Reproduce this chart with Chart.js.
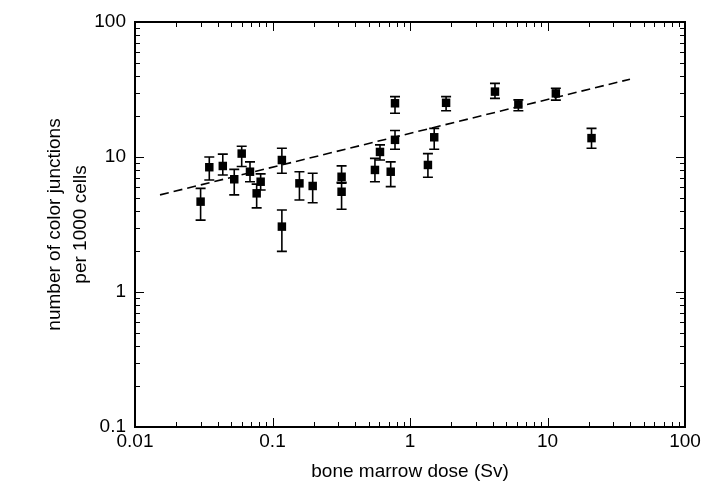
<!DOCTYPE html>
<html>
<head>
<meta charset="utf-8">
<script src="https://cdn.jsdelivr.net/npm/chart.js@4.4.1/dist/chart.umd.min.js"></script>
<style>
  html,body{margin:0;padding:0;background:#fff;}
  #wrap{width:707px;height:499px;}
</style>
</head>
<body>
<div id="wrap"><canvas id="dose-chart" width="707" height="499"></canvas></div>
<script>
// ------------------------------------------------------
// data
// ------------------------------------------------------
const doseSv    = [0.030, 0.0347, 0.0435, 0.0527, 0.0597, 0.0686, 0.082, 0.0767, 0.117, 0.117, 0.157, 0.196, 0.318, 0.318,
                   0.556, 0.605, 0.724, 0.778, 0.778, 1.35, 1.50, 1.83, 4.15, 6.14, 11.5, 20.9];
const junctions = [4.67, 8.4, 8.58, 6.84, 10.6, 7.78, 6.56, 5.38, 9.5, 3.05, 6.38, 6.1, 7.14, 5.53,
                   8.02, 10.9, 7.78, 25.0, 13.4, 8.73, 14.0, 25.2, 30.5, 24.5, 29.6, 13.8];
const errLow    = [3.41, 6.76, 7.36, 5.24, 8.5, 6.56, 5.7, 4.2, 7.57, 2.0, 4.8, 4.58, 6.4, 4.1,
                   6.56, 9.5, 6.03, 21.1, 11.4, 7.08, 11.4, 22.0, 27.2, 22.0, 26.4, 11.6];
const errHigh   = [5.86, 10.0, 10.5, 8.1, 12.0, 9.2, 7.5, 6.3, 11.6, 4.05, 7.78, 7.57, 8.6, 6.5,
                   9.77, 12.3, 9.2, 28.0, 15.7, 10.6, 16.3, 28.0, 35.1, 26.5, 32.3, 16.3];

// fitted power law, drawn as a dashed line between its two ends
const fitDose      = [0.0152, 39.8];
const fitJunctions = [5.24, 37.7];

const xTicks = [0.01, 0.1, 1, 10, 100];
const yTicks = [0.1, 1, 10, 100];

const FONT = "'Liberation Sans', Arial, sans-serif";


// ------------------------------------------------------
// error bars
// ------------------------------------------------------
const errorBars = {
  id: 'errorBars',
  afterDatasetsDraw(chart){
    const { ctx, scales:{ x, y } } = chart;
    ctx.save();
    ctx.strokeStyle = '#000';
    ctx.lineWidth = 1.6;
    doseSv.forEach((d, i)=>{
      const px  = x.getPixelForValue(d);
      const top = y.getPixelForValue(errHigh[i]);
      const bot = y.getPixelForValue(errLow[i]);
      ctx.beginPath();
      ctx.moveTo(px, top); ctx.lineTo(px, bot);
      ctx.moveTo(px-5, top); ctx.lineTo(px+5, top);
      ctx.moveTo(px-5, bot); ctx.lineTo(px+5, bot);
      ctx.stroke();
    });
    ctx.restore();
  }
};


// ------------------------------------------------------
// frame + inward log ticks on all four sides
// ------------------------------------------------------
function logTickValues(min, max){
  const out = [];
  for(let e = Math.round(Math.log10(min)); e < Math.round(Math.log10(max)); e++){
    for(let m = 1; m < 10; m++) out.push({ v: m * Math.pow(10, e), major: m === 1 });
  }
  out.push({ v: max, major: true });
  return out;
}

const frameTicks = {
  id: 'frameTicks',
  afterDraw(chart){
    const { ctx, chartArea:a, scales:{ x, y } } = chart;
    ctx.save();
    ctx.strokeStyle = '#000';
    ctx.lineWidth = 1;
    logTickValues(x.min, x.max).forEach(t=>{
      const px = Math.round(x.getPixelForValue(t.v)) + 0.5;
      const len = t.major ? 9 : 5;
      ctx.beginPath();
      ctx.moveTo(px, a.bottom); ctx.lineTo(px, a.bottom - len);
      ctx.moveTo(px, a.top);    ctx.lineTo(px, a.top + len);
      ctx.stroke();
    });
    logTickValues(y.min, y.max).forEach(t=>{
      const py = Math.round(y.getPixelForValue(t.v)) + 0.5;
      const len = t.major ? 9 : 5;
      ctx.beginPath();
      ctx.moveTo(a.left, py);  ctx.lineTo(a.left + len, py);
      ctx.moveTo(a.right, py); ctx.lineTo(a.right - len, py);
      ctx.stroke();
    });
    ctx.lineWidth = 2;
    ctx.strokeRect(a.left, a.top, a.right - a.left, a.bottom - a.top);
    ctx.restore();
  }
};


// ------------------------------------------------------
// chart
// ------------------------------------------------------
new Chart(document.getElementById('dose-chart').getContext('2d'), {
  type: 'scatter',
  data: {
    datasets: [
      {
        label: 'fit',
        type: 'line',
        data: fitDose.map((d, i)=>({ x: d, y: fitJunctions[i] })),
        borderColor: '#000',
        borderWidth: 1.6,
        borderDash: [9, 5],
        pointRadius: 0,
        fill: false
      },
      {
        label: 'junctions',
        data: doseSv.map((d, i)=>({ x: d, y: junctions[i] })),
        pointStyle: 'rect',
        pointRadius: 6,
        backgroundColor: '#000',
        borderColor: '#000',
        borderWidth: 0
      }
    ]
  },
  options: {
    responsive: false,
    animation: false,
    layout: { padding: { top: 22, right: 22, left: 0, bottom: 0 } },
    plugins: { legend: { display: false }, tooltip: { enabled: false } },
    scales: {
      x: {
        type: 'logarithmic',
        min: 0.01, max: 100,
        afterBuildTicks: s => { s.ticks = xTicks.map(v=>({ value: v })); },
        afterFit: s => { s.height = 72; },
        grid: { display: false, drawTicks: false },
        border: { display: false },
        ticks: {
          color: '#000', padding: 3, maxRotation: 0, autoSkip: false,
          font: { family: FONT, size: 19 },
          callback: v => String(v)
        },
        title: {
          display: true, text: 'bone marrow dose (Sv)', color: '#000',
          font: { family: FONT, size: 19 }, padding: { bottom: 16 }
        }
      },
      y: {
        type: 'logarithmic',
        min: 0.1, max: 100,
        afterBuildTicks: s => { s.ticks = yTicks.map(v=>({ value: v })); },
        afterFit: s => { s.width = 135; },
        grid: { display: false, drawTicks: false },
        border: { display: false },
        ticks: {
          color: '#000', padding: 9, autoSkip: false,
          font: { family: FONT, size: 19 },
          callback: v => String(v)
        },
        title: {
          display: true, text: ['number of color junctions', 'per 1000 cells'], color: '#000',
          font: { family: FONT, size: 19, lineHeight: 1.35 }, padding: { top: 42 }
        }
      }
    }
  },
  plugins: [errorBars, frameTicks]
});
</script>
</body>
</html>
